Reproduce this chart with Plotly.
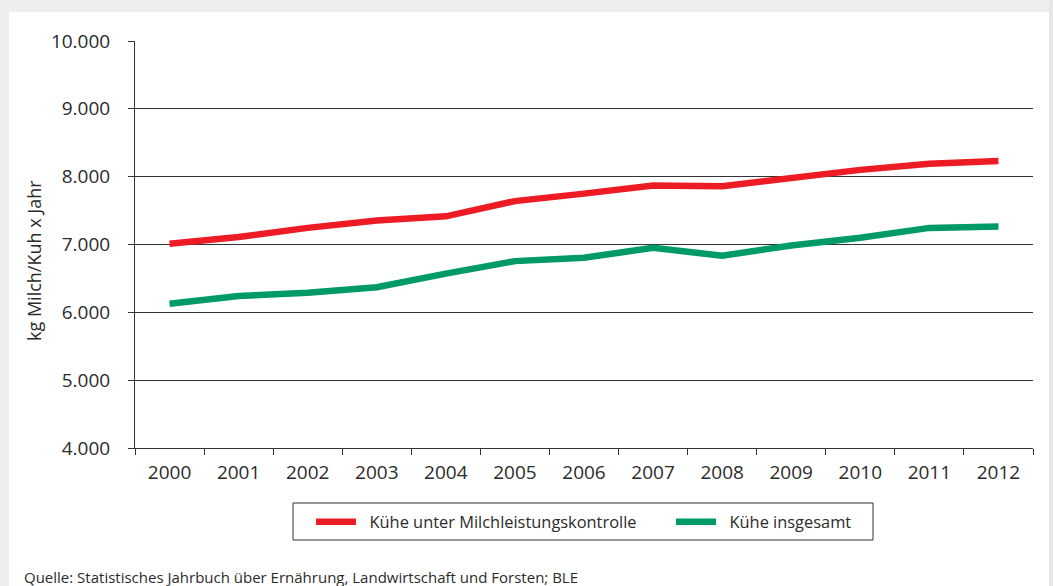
import plotly.graph_objects as go

# Jahre und Milchleistung je Kuh (kg Milch/Kuh x Jahr)
jahre = ["2000", "2001", "2002", "2003", "2004", "2005", "2006",
         "2007", "2008", "2009", "2010", "2011", "2012"]
mlp_kuehe = [7010, 7110, 7245, 7355, 7415, 7640, 7750,
             7870, 7860, 7980, 8100, 8190, 8230]
alle_kuehe = [6125, 6240, 6290, 6370, 6570, 6755, 6805,
              6950, 6835, 6985, 7100, 7245, 7265]

y_ticks = [4000, 5000, 6000, 7000, 8000, 9000, 10000]

FONT = "Open Sans"
TXT = "#2b2b2b"
GAP = "\u00a0\u00a0"  # Abstand zwischen Legendensymbol und Text

fig = go.Figure()
fig.add_trace(go.Scatter(
    x=jahre, y=mlp_kuehe, mode="lines",
    name=GAP + "Kühe unter Milchleistungskontrolle",
    line=dict(color="#ED1C24", width=6.5),
    legend="legend",
))
fig.add_trace(go.Scatter(
    x=jahre, y=alle_kuehe, mode="lines",
    name=GAP + "Kühe insgesamt",
    line=dict(color="#009A66", width=6.5),
    legend="legend2",
))

W, H = 1053, 586
L, R, T, B = 135, 20, 41, 138
pw, ph = W - L - R, H - T - B


def px_x(x):
    return (x - L) / pw


def px_y(y):
    return (H - B - y) / ph


legend_style = dict(
    orientation="h", xanchor="left",
    y=px_y(522), yanchor="middle",
    borderwidth=0, bgcolor="rgba(0,0,0,0)",
    font=dict(family=FONT, size=16.4, color=TXT),
    itemwidth=40,
)

fig.update_layout(
    width=W, height=H,
    margin=dict(l=L, r=R, t=T, b=B, autoexpand=False),
    paper_bgcolor="#ffffff",
    plot_bgcolor="rgba(0,0,0,0)",
    separators=",.",
    font=dict(family=FONT, color=TXT, size=16),
    showlegend=True,
    legend=dict(legend_style, x=px_x(311)),
    legend2=dict(legend_style, x=px_x(671)),
    xaxis=dict(
        type="category",
        range=[-0.5, len(jahre) - 0.5],
        showline=True, linecolor="#333333", linewidth=1,
        ticks="outside", tickson="boundaries", ticklen=6,
        tickcolor="#333333", tickwidth=1,
        showgrid=False, zeroline=False,
        tickfont=dict(family=FONT, size=19, color=TXT),
        ticklabelstandoff=7,
    ),
    yaxis=dict(
        range=[4000, 10000],
        tickvals=y_ticks, tickformat=",d",
        showline=True, linecolor="#333333", linewidth=1,
        ticks="outside", ticklen=6, tickcolor="#333333", tickwidth=1,
        showgrid=True, gridcolor="#333333", gridwidth=1,
        zeroline=False,
        tickfont=dict(family=FONT, size=19, color=TXT),
        ticklabelstandoff=14,
    ),
    shapes=[
        # heller Rahmen um die Grafik
        dict(type="rect", xref="paper", yref="paper",
             x0=px_x(0), x1=px_x(W), y0=px_y(0), y1=px_y(12),
             fillcolor="#eeeeee", line=dict(width=0), layer="below"),
        dict(type="rect", xref="paper", yref="paper",
             x0=px_x(0), x1=px_x(9), y0=px_y(0), y1=px_y(H),
             fillcolor="#eeeeee", line=dict(width=0), layer="below"),
        dict(type="rect", xref="paper", yref="paper",
             x0=px_x(1049), x1=px_x(W), y0=px_y(0), y1=px_y(H),
             fillcolor="#e6e6e6", line=dict(width=0), layer="below"),
        # Rahmen der Legende
        dict(type="rect", xref="paper", yref="paper",
             x0=px_x(293), x1=px_x(873), y0=px_y(540), y1=px_y(503),
             fillcolor="rgba(0,0,0,0)", line=dict(color="#333333", width=1),
             layer="below"),
    ],
    annotations=[
        dict(text="kg Milch/Kuh x Jahr", textangle=-90,
             xref="paper", yref="paper", x=px_x(34), y=px_y(261),
             xanchor="center", yanchor="middle", showarrow=False,
             font=dict(family=FONT, size=18, color=TXT)),
        dict(text="Quelle: Statistisches Jahrbuch über Ernährung, Landwirtschaft und Forsten; BLE",
             xref="paper", yref="paper", x=px_x(22), y=px_y(577),
             xanchor="left", yanchor="middle", showarrow=False,
             font=dict(family=FONT, size=15, color=TXT)),
    ],
)

fig.write_html("out.html")
